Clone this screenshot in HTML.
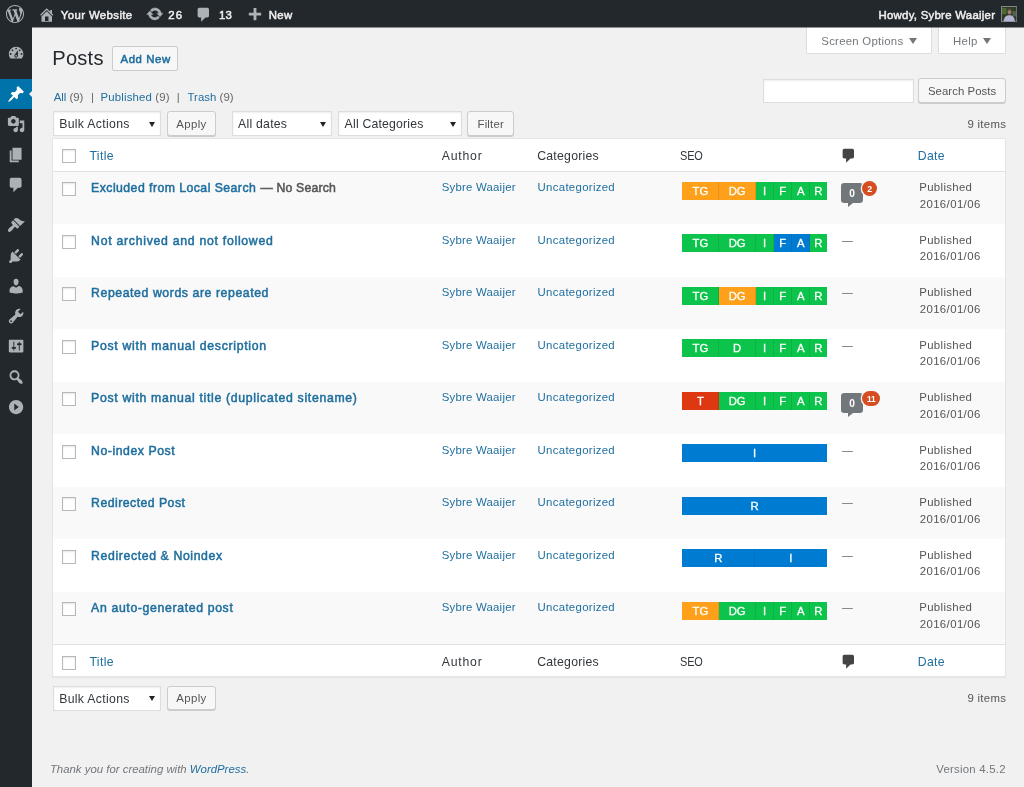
<!DOCTYPE html>
<html lang="en"><head><meta charset="utf-8"><title>Posts ‹ Your Website — WordPress</title>
<style>
html,body{margin:0;padding:0}
body{width:1024px;height:787px;overflow:hidden;background:#f1f1f1;font-family:'Liberation Sans',sans-serif;position:relative;color:#444}
a{text-decoration:none;color:#206f9f}
.t{position:absolute;white-space:pre;margin:0;padding:0;font-weight:400}
.ic{position:absolute;display:block}
.abs,.box{position:absolute;box-sizing:border-box}
#wpadminbar{position:absolute;left:0;top:0;width:1024px;height:27px;background:#23282d}
#adminmenu{position:absolute;left:0;top:0;width:32px;height:787px;background:#23282d;margin:0;padding:0;list-style:none}
#adminmenu li{position:absolute;left:0;width:32px;margin:0;padding:0}
#adminmenu li.current{background:#0073aa}
#adminmenu li.current:after{content:"";position:absolute;right:0;top:50%;margin-top:-3.5px;border:3.5px solid transparent;border-right-color:#f1f1f1}
.sel{position:absolute;box-sizing:border-box;background:#fff;border:1px solid #ddd;box-shadow:inset 0 1px 2px rgba(0,0,0,.07)}
.sel i{position:absolute;right:4.6px;top:50%;margin-top:-2px;border:3px solid transparent;border-top:5px solid #222;border-bottom:0}
.btn{position:absolute;box-sizing:border-box;background:#f7f7f7;border:1px solid #ccc;border-radius:3px;box-shadow:0 1px 0 #ccc}
.tab{position:absolute;box-sizing:border-box;background:#fff;border:1px solid #ddd;border-top:none;border-radius:0 0 2px 2px}
.tab i{position:absolute;top:50%;margin-top:-2.5px;border:4.3px solid transparent;border-top:6.2px solid #72777c;border-bottom:0}
.cb{position:absolute;box-sizing:border-box;background:#fff;border:1px solid #b4b9be;box-shadow:inset 0 1px 2px rgba(0,0,0,.1)}
#the-list{position:absolute;box-sizing:border-box;background:#fff;border:1px solid #e5e5e5;box-shadow:0 1px 1px rgba(0,0,0,.04)}
.row{position:absolute;left:0;right:0}
.row.alt{background:#f9f9f9}
.seo{position:absolute;display:flex;overflow:hidden}
.seo b{display:block;flex:none;height:100%;box-sizing:border-box;color:#fff;font-weight:400;text-align:center;-webkit-text-stroke:.3px;box-shadow:inset -1px 0 0 rgba(0,0,0,.08)}
.seo b:last-child{box-shadow:none}
.g{background:#0cc34b}.o{background:#ffa01b}.r{background:#dd3811}.u{background:#007bd2}
.w25{width:36.6px}.w25+.w25{width:37px}.w12{width:18px}.w12:last-child{flex:1 1 auto}.w50{width:72.5px}.w100{width:145px}
.bubble{position:absolute;background:#72777c;border-radius:3.2px}
.bubble:after{content:"";position:absolute;left:7px;bottom:-4.2px;border-top:4.6px solid #72777c;border-right:5px solid transparent}
.badge{position:absolute;background:#d54e21;border-radius:8px;box-shadow:0 0 0 1.3px #f9f9f9}
</style></head><body>

<ul id="adminmenu">
<li style="top:38.10px;height:30.40px"><svg class="ic" style="left:6.60px;top:6.10px;width:18.20px;height:18.20px" viewBox="0 0 20 20"><path fill="#acb1b6" d="M3.76 16h12.48c1.1-1.37 1.76-3.11 1.76-5 0-4.42-3.58-8-8-8s-8 3.58-8 8c0 1.89.66 3.63 1.76 5zM10 4c.55 0 1 .45 1 1s-.45 1-1 1-1-.45-1-1 .45-1 1-1zM6 6c.55 0 1 .45 1 1s-.45 1-1 1-1-.45-1-1 .45-1 1-1zm8 0c.55 0 1 .45 1 1s-.45 1-1 1-1-.45-1-1 .45-1 1-1zm-5.37 5.55L12 7v6c0 1.1-.9 2-2 2s-2-.9-2-2c0-.57.24-1.08.63-1.45zM4 10c.55 0 1 .45 1 1s-.45 1-1 1-1-.45-1-1 .45-1 1-1zm12 0c.55 0 1 .45 1 1s-.45 1-1 1-1-.45-1-1 .45-1 1-1zm-5 3c0-.55-.45-1-1-1s-1 .45-1 1 .45 1 1 1 1-.45 1-1z"/></svg></li>
<li class="current" style="top:79.10px;height:30.40px"><svg class="ic" style="left:6.60px;top:6.10px;width:18.20px;height:18.20px" viewBox="0 0 20 20"><path fill="#fff" d="M10.44 3.02l1.82-1.82 6.36 6.35-1.83 1.82c-1.05-.68-2.48-.57-3.41.36l-.75.75c-.92.93-1.04 2.35-.35 3.41l-1.83 1.82-2.41-2.41-2.8 2.79c-.42.42-3.38 2.71-3.8 2.29s1.86-3.39 2.28-3.81l2.79-2.79L4.1 9.36l1.83-1.82c1.05.69 2.48.57 3.4-.36l.75-.75c.93-.92 1.05-2.35.36-3.41z"/></svg></li>
<li style="top:109.30px;height:30.40px"><svg class="ic" style="left:6.60px;top:6.10px;width:18.20px;height:18.20px" viewBox="0 0 20 20"><path fill="#acb1b6" d="M13 11V4c0-.55-.45-1-1-1h-1.67L9 1H5L3.67 3H2c-.55 0-1 .45-1 1v7c0 .55.45 1 1 1h10c.55 0 1-.45 1-1zM7 4.5c1.38 0 2.5 1.12 2.5 2.5S8.38 9.5 7 9.5 4.5 8.38 4.5 7 5.62 4.5 7 4.5zM14 6h5v10.5c0 1.38-1.12 2.5-2.5 2.5S14 17.88 14 16.5s1.12-2.5 2.5-2.5c.17 0 .34.02.5.05V9h-3V6zm-4 8.05V13h2v3.5c0 1.38-1.12 2.5-2.5 2.5S7 17.88 7 16.5 8.12 14 9.5 14c.17 0 .34.02.5.05z"/></svg></li>
<li style="top:139.80px;height:30.40px"><svg class="ic" style="left:6.60px;top:6.10px;width:18.20px;height:18.20px" viewBox="0 0 20 20"><path fill="#acb1b6" d="M6 15V2h10v13H6zm-1 1h8v2H3V5h2v11z"/></svg></li>
<li style="top:170.10px;height:30.40px"><svg class="ic" style="left:6.60px;top:6.10px;width:18.20px;height:18.20px" viewBox="0 0 20 20"><path fill="#acb1b6" d="M5 2h9c1.1 0 2 .9 2 2v7c0 1.1-.9 2-2 2h-2l-5 5v-5H5c-1.1 0-2-.9-2-2V4c0-1.1.9-2 2-2z"/></svg></li>
<li style="top:210.10px;height:30.40px"><svg class="ic" style="left:6.60px;top:6.10px;width:18.20px;height:18.20px" viewBox="0 0 20 20"><path fill="#acb1b6" d="M14.48 11.06L7.41 3.99l1.5-1.5c.5-.56 2.3-.47 3.51.32 1.21.8 1.43 1.28 2.91 2.1 1.18.64 2.45 1.26 4.45.85zm-.71.71L6.7 4.7 4.93 6.47c-.39.39-.39 1.02 0 1.41l1.06 1.06c.39.39.39 1.03 0 1.42-.6.6-1.43 1.11-2.21 1.69-.35.26-.7.53-1.01.84C1.43 14.23.4 16.08 1.4 17.07c.99 1 2.84-.03 4.18-1.36.31-.31.58-.66.85-1.02.57-.78 1.08-1.61 1.69-2.21.39-.39 1.02-.39 1.41 0l1.06 1.06c.39.39 1.02.39 1.41 0z"/></svg></li>
<li style="top:240.80px;height:30.40px"><svg class="ic" style="left:6.60px;top:6.10px;width:18.20px;height:18.20px" viewBox="0 0 20 20"><path fill="#acb1b6" d="M13.11 4.36L9.87 7.6 8 5.73l3.24-3.24c.35-.34 1.05-.2 1.56.32.52.51.66 1.21.31 1.55zm-8 1.77l.91-1.12 9.01 9.01-1.19.84c-.71.71-2.63 1.16-3.82 1.16H6.14L4.9 17.26c-.59.59-1.54.59-2.12 0-.59-.58-.59-1.53 0-2.12l1.24-1.24v-3.88c0-1.13.4-3.19 1.09-3.89zm7.26 3.97l3.24-3.24c.34-.35 1.04-.21 1.55.31.52.51.66 1.21.31 1.55l-3.24 3.25z"/></svg></li>
<li style="top:270.80px;height:30.40px"><svg class="ic" style="left:6.60px;top:6.10px;width:18.20px;height:18.20px" viewBox="0 0 20 20"><path fill="#acb1b6" d="M10 9.25c-2.27 0-2.73-3.44-2.73-3.44C7 4.02 7.82 2 9.97 2c2.16 0 2.98 2.02 2.71 3.81 0 0-.41 3.44-2.68 3.44zm0 2.57L12.72 10c2.39 0 4.52 2.33 4.52 4.53v2.49s-3.65 1.13-7.24 1.13c-3.65 0-7.24-1.13-7.24-1.13v-2.49c0-2.25 1.94-4.48 4.47-4.48z"/></svg></li>
<li style="top:301.10px;height:30.40px"><svg class="ic" style="left:6.60px;top:6.10px;width:18.20px;height:18.20px" viewBox="0 0 20 20"><path fill="#acb1b6" d="M16.68 9.77c-1.34 1.34-3.3 1.67-4.95.99l-5.41 6.52c-.99.99-2.59.99-3.58 0s-.99-2.59 0-3.57l6.52-5.42c-.68-1.65-.35-3.61.99-4.95 1.28-1.28 3.12-1.62 4.72-1.06l-2.89 2.89 2.82 2.82 2.86-2.87c.53 1.58.18 3.39-1.08 4.65zM3.81 16.21c.4.39 1.04.39 1.43 0 .4-.4.4-1.04 0-1.43-.39-.4-1.03-.4-1.43 0-.39.39-.39 1.03 0 1.43z"/></svg></li>
<li style="top:331.30px;height:30.40px"><svg class="ic" style="left:6.60px;top:6.10px;width:18.20px;height:18.20px" viewBox="0 0 20 20"><path fill="#acb1b6" d="M18 16V4c0-.55-.45-1-1-1H3c-.55 0-1 .45-1 1v12c0 .55.45 1 1 1h14c.55 0 1-.45 1-1zM8 11h1c.55 0 1 .45 1 1s-.45 1-1 1H8v1.5c0 .28-.22.5-.5.5s-.5-.22-.5-.5V13H6c-.55 0-1-.45-1-1s.45-1 1-1h1V5.5c0-.28.22-.5.5-.5s.5.22.5.5V11zm5-2h-1c-.55 0-1-.45-1-1s.45-1 1-1h1V5.500c0-.28.22-.5.5-.5s.5.22.5.5V7h1c.55 0 1 .45 1 1s-.45 1-1 1h-1v5.500c0 .28-.22.5-.5.5s-.5-.22-.5-.5V9z"/></svg></li>
<li style="top:361.50px;height:30.40px"><svg class="ic" style="left:6.60px;top:6.10px;width:18.20px;height:18.20px" viewBox="0 0 20 20"><path fill="#acb1b6" d="M12.14 4.18c1.87 1.87 2.11 4.75.72 6.89.12.1.22.21.36.31.2.16.47.36.81.59.34.24.56.39.66.47.42.31.73.57.94.78.32.32.6.65.84 1 .25.35.44.69.59 1.04.14.35.21.68.18 1-.02.32-.14.59-.36.81s-.49.34-.81.36c-.31.02-.65-.04-.99-.19-.35-.14-.7-.34-1.04-.59-.35-.24-.68-.52-1-.84-.21-.21-.47-.52-.77-.93-.1-.13-.25-.35-.47-.66-.22-.32-.4-.57-.56-.78-.16-.2-.29-.35-.44-.5-2.07 1.09-4.69.76-6.44-.98-2.14-2.15-2.14-5.64 0-7.79 2.15-2.15 5.63-2.15 7.78 0zm-1.41 6.36c1.36-1.37 1.36-3.58 0-4.950-1.37-1.37-3.59-1.37-4.95 0-1.37 1.37-1.37 3.58 0 4.950 1.36 1.37 3.58 1.37 4.95 0z"/></svg></li>
<li style="top:391.80px;height:30.40px"><svg class="ic" style="left:6.60px;top:6.10px;width:18.20px;height:18.20px" viewBox="0 0 20 20"><path fill="#acb1b6" d="M10 2.16c4.33 0 7.84 3.51 7.84 7.84s-3.51 7.84-7.84 7.84S2.160 14.33 2.16 10 5.67 2.16 10 2.16zM8 13.88L12.900 10 8 6.12z"/></svg></li>
</ul>
<div id="wpadminbar">
<svg class="ic" style="left:6.10px;top:5.00px;width:18.00px;height:18.00px" viewBox="0 0 20 20"><path fill="#adb2b7" d="M20 10c0-5.51-4.49-10-10-10C4.48 0 0 4.49 0 10c0 5.52 4.48 10 10 10 5.51 0 10-4.48 10-10zM7.78 15.37L4.37 6.22c.55-.02 1.17-.08 1.17-.08.5-.06.44-1.13-.06-1.11 0 0-1.45.11-2.37.11-.18 0-.37 0-.58-.01C4.12 2.69 6.87 1.11 10 1.11c2.33 0 4.45.87 6.05 2.34-.68-.11-1.65.39-1.65 1.58 0 .74.45 1.36.9 2.1.35.61.55 1.36.55 2.46 0 1.49-1.4 5-1.4 5l-3.03-8.37c.54-.02.82-.17.82-.17.5-.05.44-1.25-.06-1.22 0 0-1.44.12-2.38.12-.87 0-2.33-.12-2.33-.12-.5-.03-.56 1.2-.06 1.22l.92.08 1.26 3.41zM17.41 10c.24-.64.74-1.87.43-4.250.7 1.29 1.05 2.71 1.05 4.25 0 3.29-1.73 6.24-4.4 7.78.97-2.59 1.94-5.2 2.92-7.78zM6.1 18.09C3.12 16.65 1.11 13.53 1.11 10c0-1.3.23-2.48.72-3.59C3.25 10.3 4.67 14.2 6.1 18.090zm4.03-6.63l2.58 6.98c-.86.29-1.76.45-2.71.45-.79 0-1.57-.11-2.29-.33.81-2.38 1.62-4.74 2.42-7.1z"/></svg>
<svg class="ic" style="left:37.75px;top:5.55px;width:17.50px;height:17.50px" viewBox="0 0 20 20"><path fill="#adb2b7" d="M16 8.5l1.53 1.53-1.06 1.06L10 4.62l-6.47 6.47-1.06-1.06L10 2.5l4 4v-2h2v4zm-6-2.46l6 5.99V18H4v-5.97zM12 17v-5H8v5h4z"/></svg>
<span class="t" style="left:60.80px;top:7.55px;font-size:11.4px;line-height:15px;color:#eee;letter-spacing:0.389px;-webkit-text-stroke:0.5px;">Your Website</span>
<svg class="ic" style="left:145.60px;top:5.40px;width:17.80px;height:17.80px" viewBox="0 0 20 20" stroke="#adb2b7" stroke-width=".5"><path fill="#adb2b7" d="M10.2 3.28c3.53 0 6.43 2.61 6.92 6h2.08l-3.5 4-3.5-4h2.32c-.45-1.97-2.21-3.45-4.32-3.45-1.45 0-2.73.71-3.54 1.78L4.95 5.66C6.23 4.2 8.11 3.28 10.2 3.28zm-.4 13.44c-3.52 0-6.43-2.61-6.92-6H.8l3.5-4c1.17 1.33 2.33 2.67 3.5 4H5.48c.45 1.97 2.21 3.45 4.32 3.45 1.45 0 2.73-.71 3.54-1.78l1.71 1.95c-1.28 1.46-3.15 2.38-5.25 2.38z"/></svg>
<span class="t" style="left:168.30px;top:7.55px;font-size:11.4px;line-height:15px;color:#eee;letter-spacing:1.028px;-webkit-text-stroke:0.5px;">26</span>
<svg class="ic" style="left:194.95px;top:6.05px;width:17.50px;height:17.50px" viewBox="0 0 20 20"><path fill="#adb2b7" d="M5 2h9c1.1 0 2 .9 2 2v7c0 1.1-.9 2-2 2h-2l-5 5v-5H5c-1.1 0-2-.9-2-2V4c0-1.1.9-2 2-2z"/></svg>
<span class="t" style="left:219.00px;top:7.55px;font-size:11.4px;line-height:15px;color:#eee;letter-spacing:0.128px;-webkit-text-stroke:0.5px;">13</span>
<svg class="ic" style="left:245.20px;top:5.80px;width:19.00px;height:19.00px" viewBox="0 0 20 20"><path fill="#adb2b7" d="M17 7v3h-5v5H9v-5H4V7h5V2h3v5h5z"/></svg>
<span class="t" style="left:268.75px;top:7.55px;font-size:11.4px;line-height:15px;color:#eee;letter-spacing:0.327px;-webkit-text-stroke:0.5px;">New</span>
<span class="t" style="left:878.50px;top:7.55px;font-size:11.4px;line-height:15px;color:#eee;letter-spacing:0.267px;-webkit-text-stroke:0.5px;">Howdy, Sybre Waaijer</span>
<svg class="ic" style="left:1001px;top:6px;width:16.4px;height:16.4px" viewBox="0 0 16 16"><defs><filter id="bl" x="-10%" y="-10%" width="120%" height="120%"><feGaussianBlur stdDeviation="0.55"/></filter><clipPath id="cp"><rect x="1" y="1" width="14" height="14"/></clipPath></defs><rect width="16" height="16" fill="#82878c"/><g clip-path="url(#cp)"><g filter="url(#bl)"><rect x="0" y="0" width="16" height="16" fill="#303a28"/><rect x="1" y="2" width="4.5" height="6" fill="#4d6a30"/><rect x="11" y="5" width="4" height="5" fill="#55604a"/><path d="M2.5 16c0-4.500 2-7 5.700-7s5.300 2.500 5.300 7z" fill="#b4b4d4"/><ellipse cx="8.300" cy="5.800" rx="1.900" ry="2.400" fill="#9a7f70"/><path d="M6.300 5c0-2 1-2.800 2.100-2.800s2 .8 2 2.600c-.8-.9-2.800-1-4.100.2z" fill="#5a4a3c"/></g></g></svg>
</div>
<div class="tab" style="left:806.00px;top:27.00px;width:126.00px;height:27.40px;"><span class="t" style="left:14.30px;top:7.35px;font-size:11.4px;line-height:15px;color:#72777c;letter-spacing:0.253px;">Screen Options</span><i style="left:102.30px"></i></div>
<div class="tab" style="left:938.00px;top:27.00px;width:68.00px;height:27.40px;"><span class="t" style="left:14.10px;top:7.35px;font-size:11.4px;line-height:15px;color:#72777c;letter-spacing:0.254px;">Help</span><i style="left:44.40px"></i></div>
<h1 class="t" style="left:52.30px;top:45.44px;font-size:20.1px;line-height:26px;color:#23282d;letter-spacing:0.234px;">Posts</h1>
<a class="btn" style="left:112.30px;top:46.00px;width:65.40px;height:24.70px;;border-radius:2px;box-shadow:none"><span class="t" style="left:7.20px;top:4.65px;font-size:11.4px;line-height:15px;color:#206f9f;letter-spacing:0.578px;-webkit-text-stroke:0.5px;">Add New</span></a>
<ul class="subsubsub" style="margin:0;padding:0;list-style:none">
<li><span class="t" style="left:53.70px;top:90.15px;font-size:11.4px;line-height:15px;color:#666;letter-spacing:-0.008px;"><a>All</a> (9)</span><span class="t" style="left:90.90px;top:90.15px;font-size:11.4px;line-height:15px;color:#666;">|</span></li>
<li><span class="t" style="left:100.60px;top:90.15px;font-size:11.4px;line-height:15px;color:#666;letter-spacing:0.148px;"><a>Published</a> (9)</span><span class="t" style="left:176.80px;top:90.15px;font-size:11.4px;line-height:15px;color:#666;">|</span></li>
<li><span class="t" style="left:187.50px;top:90.15px;font-size:11.4px;line-height:15px;color:#666;letter-spacing:0.040px;"><a>Trash</a> (9)</span></li>
</ul>
<div class="sel" style="left:763.20px;top:78.70px;width:150.80px;height:24.40px;"></div>
<div class="btn" style="left:918.40px;top:78.20px;width:87.30px;height:24.80px;"><span class="t" style="left:8.60px;top:4.85px;font-size:11.4px;line-height:15px;color:#555;letter-spacing:0.041px;">Search Posts</span></div>
<div class="sel" style="left:53.00px;top:111.00px;width:107.50px;height:25.00px;"><span class="t" style="left:5.20px;top:4.26px;font-size:12.25px;line-height:16px;color:#32373c;letter-spacing:0.324px;">Bulk Actions</span><i></i></div><div class="btn" style="left:167.00px;top:111.00px;width:48.80px;height:24.60px;"><span class="t" style="left:8.30px;top:4.85px;font-size:11.4px;line-height:15px;color:#555;letter-spacing:0.375px;">Apply</span></div><div class="sel" style="left:231.60px;top:111.00px;width:100.00px;height:25.00px;"><span class="t" style="left:5.40px;top:4.26px;font-size:12.25px;line-height:16px;color:#32373c;letter-spacing:0.252px;">All dates</span><i></i></div><div class="sel" style="left:338.30px;top:111.00px;width:123.50px;height:25.00px;"><span class="t" style="left:5.30px;top:4.26px;font-size:12.25px;line-height:16px;color:#32373c;letter-spacing:0.195px;">All Categories</span><i></i></div><div class="btn" style="left:467.30px;top:111.00px;width:46.30px;height:24.60px;"><span class="t" style="left:9.20px;top:4.85px;font-size:11.4px;line-height:15px;color:#555;letter-spacing:0.198px;">Filter</span></div><span class="t" style="left:967.40px;top:116.85px;font-size:11.4px;line-height:15px;color:#555;letter-spacing:0.314px;">9 items</span>
<div id="the-list" style="left:52.00px;top:138.00px;width:953.50px;height:539.00px;">
<div class="row" style="top:0.00px;height:33.00px;border-bottom:1px solid #e1e1e1;box-sizing:border-box"><span class="cb" style="left:9.20px;top:10.00px;width:14.30px;height:14.30px;"></span><a class="t" style="left:36.50px;top:8.96px;font-size:12.25px;line-height:16px;color:#206f9f;letter-spacing:0.324px;">Title</a><span class="t" style="left:388.70px;top:8.96px;font-size:12.25px;line-height:16px;color:#32373c;letter-spacing:0.801px;">Author</span><span class="t" style="left:484.20px;top:8.96px;font-size:12.25px;line-height:16px;color:#32373c;letter-spacing:0.250px;">Categories</span><span class="t" style="left:626.80px;top:8.96px;font-size:12.25px;line-height:16px;color:#32373c;letter-spacing:-0.200px;transform:scaleX(0.895);transform-origin:0 0;">SEO</span><svg class="ic" style="left:787.45px;top:7.85px;width:17.50px;height:17.50px" viewBox="0 0 20 20"><path fill="#444" d="M5 2h9c1.1 0 2 .9 2 2v7c0 1.1-.9 2-2 2h-2l-5 5v-5H5c-1.1 0-2-.9-2-2V4c0-1.1.9-2 2-2z"/></svg><a class="t" style="left:864.75px;top:8.96px;font-size:12.25px;line-height:16px;color:#206f9f;letter-spacing:0.286px;">Date</a></div>
<div class="row alt" style="top:33.00px;height:52px"><span class="cb" style="left:9.20px;top:10.20px;width:14.30px;height:14.30px;"></span><strong class="t" style="left:38.10px;top:8.36px;font-size:12.25px;line-height:16px;color:#206f9f;letter-spacing:0.460px;-webkit-text-stroke:0.5px;"><a>Excluded from Local Search</a></strong><strong class="t post-state" style="left:207.40px;top:8.36px;font-size:12.25px;line-height:16px;color:#555;letter-spacing:0.187px;-webkit-text-stroke:0.5px;">— No Search</strong><a class="t" style="left:388.70px;top:8.15px;font-size:11.4px;line-height:15px;color:#206f9f;letter-spacing:0.224px;">Sybre Waaijer</a><a class="t" style="left:484.60px;top:8.15px;font-size:11.4px;line-height:15px;color:#206f9f;letter-spacing:0.304px;">Uncategorized</a><div class="seo" style="left:629.10px;top:9.80px;width:145.00px;height:18.20px;;font-size:11.3px;line-height:18.8px"><b class="o w25">TG</b><b class="o w25">DG</b><b class="g w12">I</b><b class="g w12">F</b><b class="g w12">A</b><b class="g w12">R</b></div><span class="bubble" style="left:788.40px;top:11.30px;width:21.50px;height:19.60px;"><span class="t" style="left:7.90px;top:3.67px;font-size:10.2px;line-height:13px;color:#fff;font-weight:700;">0</span></span><span class="badge" style="left:809.10px;top:8.90px;width:15.00px;height:15.00px;"><span class="t" style="left:5.10px;top:1.82px;font-size:8.9px;line-height:12px;color:#fff;font-weight:700;">2</span></span><span class="t" style="left:866.30px;top:8.05px;font-size:11.4px;line-height:15px;color:#555;letter-spacing:0.321px;">Published</span><span class="t" style="left:866.70px;top:24.65px;font-size:11.4px;line-height:15px;color:#555;letter-spacing:0.393px;">2016/01/06</span></div>
<div class="row" style="top:85.00px;height:53px"><span class="cb" style="left:9.20px;top:10.70px;width:14.30px;height:14.30px;"></span><strong class="t" style="left:38.10px;top:8.86px;font-size:12.25px;line-height:16px;color:#206f9f;letter-spacing:0.725px;-webkit-text-stroke:0.5px;"><a>Not archived and not followed</a></strong><a class="t" style="left:388.70px;top:8.65px;font-size:11.4px;line-height:15px;color:#206f9f;letter-spacing:0.224px;">Sybre Waaijer</a><a class="t" style="left:484.60px;top:8.65px;font-size:11.4px;line-height:15px;color:#206f9f;letter-spacing:0.304px;">Uncategorized</a><div class="seo" style="left:629.10px;top:10.30px;width:145.00px;height:18.20px;;font-size:11.3px;line-height:18.8px"><b class="g w25">TG</b><b class="g w25">DG</b><b class="g w12">I</b><b class="u w12">F</b><b class="u w12">A</b><b class="g w12">R</b></div><span class="t dash" style="left:789.00px;top:8.86px;font-size:10.8px;line-height:14px;color:#666;">—</span><span class="t" style="left:866.30px;top:8.55px;font-size:11.4px;line-height:15px;color:#555;letter-spacing:0.321px;">Published</span><span class="t" style="left:866.70px;top:25.15px;font-size:11.4px;line-height:15px;color:#555;letter-spacing:0.393px;">2016/01/06</span></div>
<div class="row alt" style="top:138.00px;height:52px"><span class="cb" style="left:9.20px;top:10.20px;width:14.30px;height:14.30px;"></span><strong class="t" style="left:38.10px;top:8.36px;font-size:12.25px;line-height:16px;color:#206f9f;letter-spacing:0.585px;-webkit-text-stroke:0.5px;"><a>Repeated words are repeated</a></strong><a class="t" style="left:388.70px;top:8.15px;font-size:11.4px;line-height:15px;color:#206f9f;letter-spacing:0.224px;">Sybre Waaijer</a><a class="t" style="left:484.60px;top:8.15px;font-size:11.4px;line-height:15px;color:#206f9f;letter-spacing:0.304px;">Uncategorized</a><div class="seo" style="left:629.10px;top:9.80px;width:145.00px;height:18.20px;;font-size:11.3px;line-height:18.8px"><b class="g w25">TG</b><b class="o w25">DG</b><b class="g w12">I</b><b class="g w12">F</b><b class="g w12">A</b><b class="g w12">R</b></div><span class="t dash" style="left:789.00px;top:8.36px;font-size:10.8px;line-height:14px;color:#666;">—</span><span class="t" style="left:866.30px;top:8.05px;font-size:11.4px;line-height:15px;color:#555;letter-spacing:0.321px;">Published</span><span class="t" style="left:866.70px;top:24.65px;font-size:11.4px;line-height:15px;color:#555;letter-spacing:0.393px;">2016/01/06</span></div>
<div class="row" style="top:190.00px;height:53px"><span class="cb" style="left:9.20px;top:10.70px;width:14.30px;height:14.30px;"></span><strong class="t" style="left:38.10px;top:8.86px;font-size:12.25px;line-height:16px;color:#206f9f;letter-spacing:0.706px;-webkit-text-stroke:0.5px;"><a>Post with manual description</a></strong><a class="t" style="left:388.70px;top:8.65px;font-size:11.4px;line-height:15px;color:#206f9f;letter-spacing:0.224px;">Sybre Waaijer</a><a class="t" style="left:484.60px;top:8.65px;font-size:11.4px;line-height:15px;color:#206f9f;letter-spacing:0.304px;">Uncategorized</a><div class="seo" style="left:629.10px;top:10.30px;width:145.00px;height:18.20px;;font-size:11.3px;line-height:18.8px"><b class="g w25">TG</b><b class="g w25">D</b><b class="g w12">I</b><b class="g w12">F</b><b class="g w12">A</b><b class="g w12">R</b></div><span class="t dash" style="left:789.00px;top:8.86px;font-size:10.8px;line-height:14px;color:#666;">—</span><span class="t" style="left:866.30px;top:8.55px;font-size:11.4px;line-height:15px;color:#555;letter-spacing:0.321px;">Published</span><span class="t" style="left:866.70px;top:25.15px;font-size:11.4px;line-height:15px;color:#555;letter-spacing:0.393px;">2016/01/06</span></div>
<div class="row alt" style="top:243.00px;height:52px"><span class="cb" style="left:9.20px;top:10.20px;width:14.30px;height:14.30px;"></span><strong class="t" style="left:38.10px;top:8.36px;font-size:12.25px;line-height:16px;color:#206f9f;letter-spacing:0.686px;-webkit-text-stroke:0.5px;"><a>Post with manual title (duplicated sitename)</a></strong><a class="t" style="left:388.70px;top:8.15px;font-size:11.4px;line-height:15px;color:#206f9f;letter-spacing:0.224px;">Sybre Waaijer</a><a class="t" style="left:484.60px;top:8.15px;font-size:11.4px;line-height:15px;color:#206f9f;letter-spacing:0.304px;">Uncategorized</a><div class="seo" style="left:629.10px;top:9.80px;width:145.00px;height:18.20px;;font-size:11.3px;line-height:18.8px"><b class="r w25">T</b><b class="g w25">DG</b><b class="g w12">I</b><b class="g w12">F</b><b class="g w12">A</b><b class="g w12">R</b></div><span class="bubble" style="left:788.40px;top:11.30px;width:21.50px;height:19.60px;"><span class="t" style="left:7.90px;top:3.67px;font-size:10.2px;line-height:13px;color:#fff;font-weight:700;">0</span></span><span class="badge" style="left:809.10px;top:8.90px;width:17.80px;height:15.00px;"><span class="t" style="left:4.60px;top:1.62px;font-size:8.9px;line-height:12px;color:#fff;letter-spacing:-0.200px;font-weight:700;transform:scaleX(0.936);transform-origin:0 0;">11</span></span><span class="t" style="left:866.30px;top:8.05px;font-size:11.4px;line-height:15px;color:#555;letter-spacing:0.321px;">Published</span><span class="t" style="left:866.70px;top:24.65px;font-size:11.4px;line-height:15px;color:#555;letter-spacing:0.393px;">2016/01/06</span></div>
<div class="row" style="top:295.00px;height:53px"><span class="cb" style="left:9.20px;top:10.70px;width:14.30px;height:14.30px;"></span><strong class="t" style="left:38.10px;top:8.86px;font-size:12.25px;line-height:16px;color:#206f9f;letter-spacing:0.546px;-webkit-text-stroke:0.5px;"><a>No-index Post</a></strong><a class="t" style="left:388.70px;top:8.65px;font-size:11.4px;line-height:15px;color:#206f9f;letter-spacing:0.224px;">Sybre Waaijer</a><a class="t" style="left:484.60px;top:8.65px;font-size:11.4px;line-height:15px;color:#206f9f;letter-spacing:0.304px;">Uncategorized</a><div class="seo" style="left:629.10px;top:10.30px;width:145.00px;height:18.20px;;font-size:11.3px;line-height:18.8px"><b class="u w100">I</b></div><span class="t dash" style="left:789.00px;top:8.86px;font-size:10.8px;line-height:14px;color:#666;">—</span><span class="t" style="left:866.30px;top:8.55px;font-size:11.4px;line-height:15px;color:#555;letter-spacing:0.321px;">Published</span><span class="t" style="left:866.70px;top:25.15px;font-size:11.4px;line-height:15px;color:#555;letter-spacing:0.393px;">2016/01/06</span></div>
<div class="row alt" style="top:348.00px;height:52px"><span class="cb" style="left:9.20px;top:10.20px;width:14.30px;height:14.30px;"></span><strong class="t" style="left:38.10px;top:8.36px;font-size:12.25px;line-height:16px;color:#206f9f;letter-spacing:0.475px;-webkit-text-stroke:0.5px;"><a>Redirected Post</a></strong><a class="t" style="left:388.70px;top:8.15px;font-size:11.4px;line-height:15px;color:#206f9f;letter-spacing:0.224px;">Sybre Waaijer</a><a class="t" style="left:484.60px;top:8.15px;font-size:11.4px;line-height:15px;color:#206f9f;letter-spacing:0.304px;">Uncategorized</a><div class="seo" style="left:629.10px;top:9.80px;width:145.00px;height:18.20px;;font-size:11.3px;line-height:18.8px"><b class="u w100">R</b></div><span class="t dash" style="left:789.00px;top:8.36px;font-size:10.8px;line-height:14px;color:#666;">—</span><span class="t" style="left:866.30px;top:8.05px;font-size:11.4px;line-height:15px;color:#555;letter-spacing:0.321px;">Published</span><span class="t" style="left:866.70px;top:24.65px;font-size:11.4px;line-height:15px;color:#555;letter-spacing:0.393px;">2016/01/06</span></div>
<div class="row" style="top:400.00px;height:53px"><span class="cb" style="left:9.20px;top:10.70px;width:14.30px;height:14.30px;"></span><strong class="t" style="left:38.10px;top:8.86px;font-size:12.25px;line-height:16px;color:#206f9f;letter-spacing:0.623px;-webkit-text-stroke:0.5px;"><a>Redirected &amp; Noindex</a></strong><a class="t" style="left:388.70px;top:8.65px;font-size:11.4px;line-height:15px;color:#206f9f;letter-spacing:0.224px;">Sybre Waaijer</a><a class="t" style="left:484.60px;top:8.65px;font-size:11.4px;line-height:15px;color:#206f9f;letter-spacing:0.304px;">Uncategorized</a><div class="seo" style="left:629.10px;top:10.30px;width:145.00px;height:18.20px;;font-size:11.3px;line-height:18.8px"><b class="u w50">R</b><b class="u w50">I</b></div><span class="t dash" style="left:789.00px;top:8.86px;font-size:10.8px;line-height:14px;color:#666;">—</span><span class="t" style="left:866.30px;top:8.55px;font-size:11.4px;line-height:15px;color:#555;letter-spacing:0.321px;">Published</span><span class="t" style="left:866.70px;top:25.15px;font-size:11.4px;line-height:15px;color:#555;letter-spacing:0.393px;">2016/01/06</span></div>
<div class="row alt" style="top:453.00px;height:52px"><span class="cb" style="left:9.20px;top:10.20px;width:14.30px;height:14.30px;"></span><strong class="t" style="left:38.10px;top:8.36px;font-size:12.25px;line-height:16px;color:#206f9f;letter-spacing:0.650px;-webkit-text-stroke:0.5px;"><a>An auto-generated post</a></strong><a class="t" style="left:388.70px;top:8.15px;font-size:11.4px;line-height:15px;color:#206f9f;letter-spacing:0.224px;">Sybre Waaijer</a><a class="t" style="left:484.60px;top:8.15px;font-size:11.4px;line-height:15px;color:#206f9f;letter-spacing:0.304px;">Uncategorized</a><div class="seo" style="left:629.10px;top:9.80px;width:145.00px;height:18.20px;;font-size:11.3px;line-height:18.8px"><b class="o w25">TG</b><b class="g w25">DG</b><b class="g w12">I</b><b class="g w12">F</b><b class="g w12">A</b><b class="g w12">R</b></div><span class="t dash" style="left:789.00px;top:8.36px;font-size:10.8px;line-height:14px;color:#666;">—</span><span class="t" style="left:866.30px;top:8.05px;font-size:11.4px;line-height:15px;color:#555;letter-spacing:0.321px;">Published</span><span class="t" style="left:866.70px;top:24.65px;font-size:11.4px;line-height:15px;color:#555;letter-spacing:0.393px;">2016/01/06</span></div>
<div class="row" style="top:505.00px;height:32.00px;border-top:1px solid #e1e1e1;box-sizing:border-box"><span class="cb" style="left:9.20px;top:11.00px;width:14.30px;height:14.30px;"></span><a class="t" style="left:36.50px;top:9.46px;font-size:12.25px;line-height:16px;color:#206f9f;letter-spacing:0.324px;">Title</a><span class="t" style="left:388.70px;top:9.46px;font-size:12.25px;line-height:16px;color:#32373c;letter-spacing:0.801px;">Author</span><span class="t" style="left:484.20px;top:9.46px;font-size:12.25px;line-height:16px;color:#32373c;letter-spacing:0.250px;">Categories</span><span class="t" style="left:626.80px;top:9.46px;font-size:12.25px;line-height:16px;color:#32373c;letter-spacing:-0.200px;transform:scaleX(0.895);transform-origin:0 0;">SEO</span><svg class="ic" style="left:787.45px;top:8.35px;width:17.50px;height:17.50px" viewBox="0 0 20 20"><path fill="#444" d="M5 2h9c1.1 0 2 .9 2 2v7c0 1.1-.9 2-2 2h-2l-5 5v-5H5c-1.1 0-2-.9-2-2V4c0-1.1.9-2 2-2z"/></svg><a class="t" style="left:864.75px;top:9.46px;font-size:12.25px;line-height:16px;color:#206f9f;letter-spacing:0.286px;">Date</a></div>
</div>
<div class="sel" style="left:53.00px;top:686.20px;width:107.50px;height:24.40px;"><span class="t" style="left:5.20px;top:3.36px;font-size:12.25px;line-height:16px;color:#32373c;letter-spacing:0.324px;">Bulk Actions</span><i></i></div><div class="btn" style="left:167.00px;top:686.20px;width:48.80px;height:24.00px;"><span class="t" style="left:8.30px;top:3.95px;font-size:11.4px;line-height:15px;color:#555;letter-spacing:0.375px;">Apply</span></div><span class="t" style="left:967.40px;top:691.05px;font-size:11.4px;line-height:15px;color:#555;letter-spacing:0.314px;">9 items</span>
<p class="t" style="left:49.90px;top:761.65px;font-size:11.4px;line-height:15px;color:#72777c;font-style:italic;">Thank you for creating with <a>WordPress</a>.</p>
<p class="t" style="left:936.20px;top:762.15px;font-size:11.4px;line-height:15px;color:#72777c;letter-spacing:0.242px;">Version 4.5.2</p>
<div style="position:absolute;left:32px;top:27px;width:992px;height:1px;background:rgba(35,40,45,.5)"></div>
</body></html>
